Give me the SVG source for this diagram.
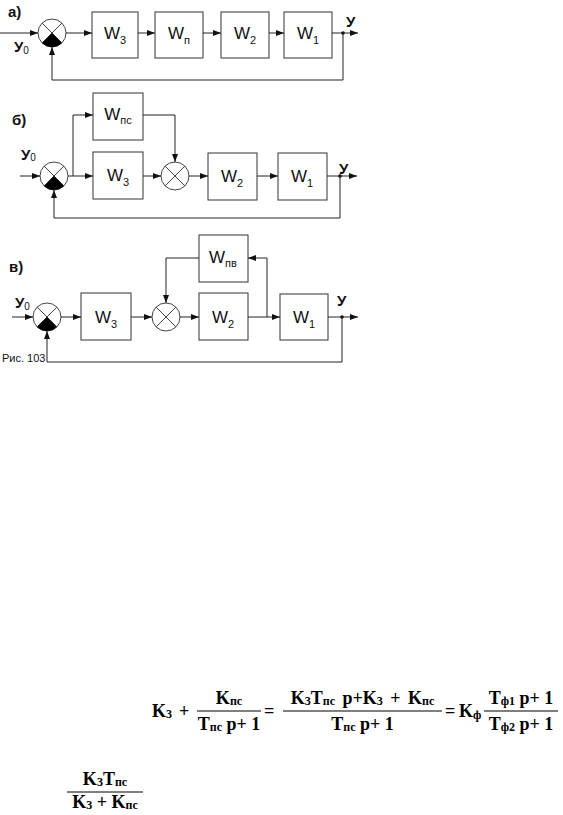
<svg xmlns="http://www.w3.org/2000/svg" width="563" height="815" viewBox="0 0 563 815">
<style>
.box{fill:#fff;stroke:#333;stroke-width:1}
.ln{fill:none;stroke:#222;stroke-width:1}
.w{font-family:"Liberation Sans",Arial,sans-serif;font-size:17px;fill:#111}
.ws{font-size:11px}
.lab{font-family:"Liberation Sans",Arial,sans-serif;font-weight:bold;font-size:15px;fill:#111}
.l0{font-family:"Liberation Sans",Arial,sans-serif;font-size:10px;fill:#111}
.cap{font-family:"Liberation Sans",Arial,sans-serif;font-size:11px;fill:#111}
.f{font-family:"Liberation Serif","Times New Roman",serif;font-weight:bold;font-size:18px;fill:#000}
.fs{font-size:12px}
.bar{stroke:#000;stroke-width:1.2}
</style>
<defs>
<marker id="ar" viewBox="0 0 8 6" refX="8" refY="3" markerWidth="8" markerHeight="6" markerUnits="userSpaceOnUse" orient="auto">
<path d="M0,0 L8,3 L0,6 Z" fill="#111"/>
</marker>
<g id="sum">
<circle r="14" fill="#fff" stroke="#444" stroke-width="1"/>
<path d="M-9.9,-9.9 L9.9,9.9 M9.9,-9.9 L-9.9,9.9" stroke="#444" stroke-width="1"/>
</g>
<g id="sumN">
<circle r="14" fill="#fff" stroke="#444" stroke-width="1"/>
<path d="M-9.9,-9.9 L9.9,9.9 M9.9,-9.9 L-9.9,9.9" stroke="#444" stroke-width="1"/>
<path d="M0,0 L-9.9,9.9 A14,14 0 0 0 9.9,9.9 Z" fill="#000"/>
</g>
</defs>

<!-- Diagram а) -->
<text class="lab" x="8" y="17">а)</text>
<text class="lab" x="14" y="52" font-size="16">У<tspan class="l0" dy="2" font-weight="normal">0</tspan></text>
<text class="lab" x="346" y="27">У</text>
<g id="a_sum"><use href="#sumN" x="52" y="33"/></g>
<g id="a_w3"><rect class="box" x="92" y="12" width="46" height="46"/><text class="w" x="115" y="39" text-anchor="middle">W<tspan class="ws" dy="5">3</tspan></text></g>
<g id="a_wp"><rect class="box" x="155" y="12" width="48" height="46"/><text class="w" x="179" y="39" text-anchor="middle">W<tspan class="ws" dy="5">п</tspan></text></g>
<g id="a_w2"><rect class="box" x="221" y="12" width="48" height="46"/><text class="w" x="245" y="39" text-anchor="middle">W<tspan class="ws" dy="5">2</tspan></text></g>
<g id="a_w1"><rect class="box" x="284" y="12" width="48" height="46"/><text class="w" x="308" y="39" text-anchor="middle">W<tspan class="ws" dy="5">1</tspan></text></g>
<g id="a_conn">
<path class="ln" d="M0,33 H38" marker-end="url(#ar)"/>
<path class="ln" d="M66,33 H92" marker-end="url(#ar)"/>
<path class="ln" d="M138,33 H155" marker-end="url(#ar)"/>
<path class="ln" d="M203,33 H221" marker-end="url(#ar)"/>
<path class="ln" d="M269,33 H284" marker-end="url(#ar)"/>
<path class="ln" d="M332,33 H358" marker-end="url(#ar)"/>
<circle cx="343" cy="33" r="1.8" fill="#111"/>
<path class="ln" d="M343,33 V80 H52 V47" marker-end="url(#ar)"/>
</g>

<!-- Diagram б) -->
<text class="lab" x="12" y="125">б)</text>
<text class="lab" x="21" y="160" font-size="16">У<tspan class="l0" dy="1" font-weight="normal">0</tspan></text>
<text class="lab" x="339" y="174">У</text>
<g id="b_sum1"><use href="#sumN" x="54" y="176"/></g>
<g id="b_wps"><rect class="box" x="93" y="93" width="50" height="47"/><text class="w" x="118" y="120" text-anchor="middle">W<tspan class="ws" dy="4">пс</tspan></text></g>
<g id="b_w3"><rect class="box" x="93" y="152" width="50" height="47"/><text class="w" x="118" y="181" text-anchor="middle">W<tspan class="ws" dy="5">3</tspan></text></g>
<g id="b_sum2"><use href="#sum" x="175" y="176"/></g>
<g id="b_w2"><rect class="box" x="208" y="153" width="49" height="47"/><text class="w" x="232" y="182" text-anchor="middle">W<tspan class="ws" dy="5">2</tspan></text></g>
<g id="b_w1"><rect class="box" x="278" y="153" width="49" height="47"/><text class="w" x="302" y="182" text-anchor="middle">W<tspan class="ws" dy="5">1</tspan></text></g>
<g id="b_conn">
<path class="ln" d="M20,176 H40" marker-end="url(#ar)"/>
<path class="ln" d="M68,176 H93" marker-end="url(#ar)"/>
<path class="ln" d="M73,176 V115 H93" marker-end="url(#ar)"/>
<path class="ln" d="M143,115 H175 V162" marker-end="url(#ar)"/>
<path class="ln" d="M143,176 H161" marker-end="url(#ar)"/>
<path class="ln" d="M189,176 H208" marker-end="url(#ar)"/>
<path class="ln" d="M257,176 H278" marker-end="url(#ar)"/>
<path class="ln" d="M327,176 H357" marker-end="url(#ar)"/>
<circle cx="340" cy="176" r="1.8" fill="#111"/>
<path class="ln" d="M340,176 V218 H54 V190" marker-end="url(#ar)"/>
</g>

<!-- Diagram в) -->
<text class="lab" x="9" y="272">в)</text>
<text class="lab" x="15" y="308" font-size="16">У<tspan class="l0" dy="2" font-weight="normal">0</tspan></text>
<text class="lab" x="337" y="306">У</text>
<g id="c_sum1"><use href="#sumN" x="47" y="317"/></g>
<g id="c_w3"><rect class="box" x="81" y="293" width="50" height="47"/><text class="w" x="106" y="323" text-anchor="middle">W<tspan class="ws" dy="5">3</tspan></text></g>
<g id="c_sum2"><use href="#sum" x="166" y="317"/></g>
<g id="c_wpv"><rect class="box" x="199" y="235" width="49" height="47"/><text class="w" x="223" y="263" text-anchor="middle">W<tspan class="ws" dy="4">пв</tspan></text></g>
<g id="c_w2"><rect class="box" x="199" y="293" width="49" height="47"/><text class="w" x="223" y="323" text-anchor="middle">W<tspan class="ws" dy="5">2</tspan></text></g>
<g id="c_w1"><rect class="box" x="280" y="294" width="48" height="46"/><text class="w" x="304" y="323" text-anchor="middle">W<tspan class="ws" dy="5">1</tspan></text></g>
<g id="c_conn">
<path class="ln" d="M12,317 H33" marker-end="url(#ar)"/>
<path class="ln" d="M61,317 H81" marker-end="url(#ar)"/>
<path class="ln" d="M131,317 H152" marker-end="url(#ar)"/>
<path class="ln" d="M180,317 H199" marker-end="url(#ar)"/>
<path class="ln" d="M248,317 H280" marker-end="url(#ar)"/>
<path class="ln" d="M267,317 V258 H248" marker-end="url(#ar)"/>
<path class="ln" d="M199,258 H166 V303" marker-end="url(#ar)"/>
<path class="ln" d="M328,317 H358" marker-end="url(#ar)"/>
<circle cx="342" cy="317" r="1.8" fill="#111"/>
<path class="ln" d="M342,317 V362 H47 V331" marker-end="url(#ar)"/>
</g>
<text class="cap" x="2" y="362">Рис. 103</text>

<!-- Formula 1 -->
<g id="formula1">
<text class="f" x="152" y="717">K<tspan class="fs" dy="1">3</tspan></text>
<text class="f" x="179" y="717">+</text>
<text class="f" x="229" y="704" text-anchor="middle">K<tspan class="fs" dy="1">пс</tspan></text>
<line class="bar" x1="197" y1="711" x2="261" y2="711"/>
<text class="f" x="229" y="730" text-anchor="middle">T<tspan class="fs" dy="1">пс</tspan><tspan dy="-1"> p+ 1</tspan></text>
<text class="f" x="264" y="717">=</text>
<text class="f" x="362.5" y="704" text-anchor="middle" word-spacing="3">K<tspan class="fs" dy="1">3</tspan><tspan dy="-1">T</tspan><tspan class="fs" dy="1">пс</tspan><tspan dy="-1"> p+K</tspan><tspan class="fs" dy="1">3</tspan><tspan dy="-1"> + K</tspan><tspan class="fs" dy="1">пс</tspan></text>
<line class="bar" x1="283" y1="711" x2="442" y2="711"/>
<text class="f" x="362.5" y="730" text-anchor="middle">T<tspan class="fs" dy="1">пс</tspan><tspan dy="-1"> p+ 1</tspan></text>
<text class="f" x="445" y="717">=</text>
<text class="f" x="459" y="717">K<tspan class="fs" dy="2">ф</tspan></text>
<text class="f" x="521" y="704" text-anchor="middle">T<tspan class="fs" dy="1">ф1</tspan><tspan dy="-1"> p+ 1</tspan></text>
<line class="bar" x1="484" y1="711" x2="558" y2="711"/>
<text class="f" x="521" y="730" text-anchor="middle">T<tspan class="fs" dy="1">ф2</tspan><tspan dy="-1"> p+ 1</tspan></text>
</g>

<!-- Formula 2 -->
<g id="formula2">
<text class="f" x="105" y="785" text-anchor="middle">K<tspan class="fs" dy="1">3</tspan><tspan dy="-1">T</tspan><tspan class="fs" dy="1">пс</tspan></text>
<line class="bar" x1="67" y1="792" x2="143" y2="792"/>
<text class="f" x="105" y="808" text-anchor="middle">K<tspan class="fs" dy="1">3</tspan><tspan dy="-1"> + K</tspan><tspan class="fs" dy="1">пс</tspan></text>
</g>
</svg>
